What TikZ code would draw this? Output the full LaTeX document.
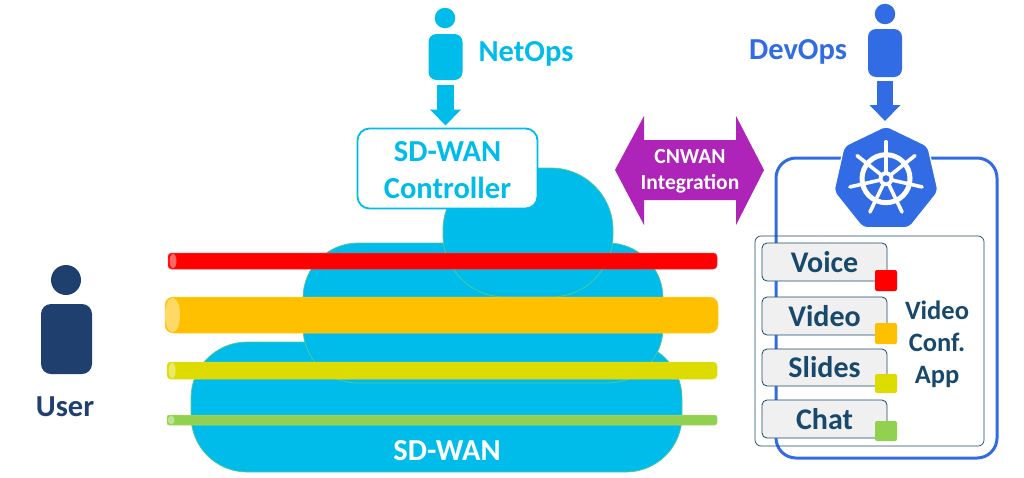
\documentclass[tikz,border=0pt]{standalone}
\usepackage{fontspec}
\setmainfont{Carlito}
\usetikzlibrary{arrows.meta,shapes.geometric,calc}
\definecolor{cyanc}{HTML}{00BCEB}
\definecolor{blueops}{HTML}{326CE5}
\definecolor{navy}{HTML}{1F3F6F}
\definecolor{teal}{HTML}{17496D}
\definecolor{purp}{HTML}{AE24B8}
\definecolor{redp}{HTML}{FF0000}
\definecolor{orap}{HTML}{FFC000}
\definecolor{yelp}{HTML}{DDDB00}
\definecolor{grnp}{HTML}{92D050}
\tikzset{
  px/.style={inner sep=0pt,outer sep=0pt},
  blob/.style={px,fill=cyanc,draw=grnp!60!cyanc,line width=0.7pt},
  head/.style={px,circle,fill=#1},
  body/.style={px,rectangle,fill=#1,rounded corners=8pt},
  lab/.style={font=\bfseries,align=center,inner sep=0pt},
  svc/.style={px,draw=teal,fill=black!6,line width=0.8pt,rounded corners=5pt,minimum width=125pt,font=\bfseries\fontsize{30}{30}\selectfont,text=teal},
  tag/.style={px,fill=#1,rounded corners=2pt,minimum width=22pt},
}
\newcommand{\pipe}[6]{% x1 x2 ytop ybot colour name
  \path let \n1={(#3+#4)/2}, \n2={(#4-#3)/2} in
    node[px,fill=#5,draw=#5!80!white,line width=0.5pt,rounded corners=\n2*0.45,minimum width=#2pt-#1pt,minimum height=#4pt-#3pt] (#6) at ({(#1+#2)/2},\n1) {}
    node[px,ellipse,fill=#5!60!white,minimum width={max(7,(#4-#3)*0.42)*1pt},minimum height=#4pt-#3pt-1.5pt] (#6e) at (#1+\n2*0.25+3,\n1) {};
}
\begin{document}
\begin{tikzpicture}[x=1pt,y=-1pt]
\useasboundingbox (0,0) rectangle (1024,477);
% cloud
\node[blob,rounded corners=56pt,minimum width=491pt,minimum height=130pt] (cloudbot) at (436.5,407) {};
\node[blob,rounded corners=55pt,minimum width=360pt,minimum height=140pt] (cloudmid) at (483,313) {};
\node[blob,rounded corners=62pt,minimum width=170pt,minimum height=129pt] (cloudtop) at (528,232.5) {};
\node[lab,text=white,font=\bfseries\fontsize{30.5}{30.5}\selectfont] (sdwan) at (447,451) {SD-WAN};
% pipes
\pipe{168}{717}{253}{269}{redp}{pvoice}
\pipe{165}{718}{297}{333}{orap}{pvideo}
\pipe{167}{717}{362}{379}{yelp}{pslides}
\pipe{167}{717}{415}{425}{grnp}{pchat}
% NetOps
\node[head=cyanc,minimum size=20.5pt] (nhead) at (445,18) {};
\node[body=cyanc,minimum width=34pt,minimum height=46pt] (nbody) at (445.5,57) {};
\node[lab,text=cyanc,font=\bfseries\fontsize{30.5}{30.5}\selectfont] (nlab) at (526,54) {NetOps};
\node[px,draw=cyanc,fill=white,line width=1.8pt,rounded corners=12pt,minimum width=180pt,minimum height=80pt] (ctrl) at (447.5,168.5) {};
\node[lab,text=cyanc,font=\bfseries\fontsize{30.5}{37}\selectfont] (ctrltext) at (447.5,170) {SD-WAN\\Controller};
\draw[cyanc,line width=16.5pt,-{Triangle[length=16pt,width=30pt]},shorten >=3pt,shorten <=5pt] (nbody.south) -- (nbody.south|-ctrl.north);
% DevOps
\node[head=blueops,minimum size=20.5pt] (dhead) at (885,14) {};
\node[body=blueops,minimum width=34pt,minimum height=48pt] (dbody) at (885,53) {};
\node[lab,text=blueops,font=\bfseries\fontsize{30.5}{30.5}\selectfont] (dlab) at (798,52) {DevOps};
% panel
\node[px,draw=blueops,line width=3pt,rounded corners=20pt,minimum width=221pt,minimum height=300pt] (panel) at (886.5,308) {};
\node[px,regular polygon,regular polygon sides=7,minimum size=107pt,fill=blueops,draw=white,line width=1.2pt,rounded corners=5pt] (kube) at (886,179.5) {};
\draw[blueops,line width=16.5pt,-{Triangle[length=16pt,width=30pt]},shorten >=5pt,shorten <=4pt] (dbody.south) -- (dbody.south|-kube.north);
\begin{scope}[shift={(kube.center)},white,line cap=round]
  \draw[line width=5pt] (0,-0.8) circle[radius=24pt];
  \foreach \a in {-90,-38.57,12.86,64.29,115.71,167.14,218.57}
    \draw[line width=3.6pt] ($(0,-0.8)+(\a:5)$) -- ($(0,-0.8)+(\a:37)$);
  \fill (0,-0.8) circle[radius=7.5pt];
  \fill[blueops] (0,-0.8) circle[radius=3.5pt];
\end{scope}
% CNWAN
\fill[purp] (615,170) -- (644,116) -- (644,140) -- (736,140) -- (736,116) -- (764,170) -- (736,225) -- (736,200) -- (644,200) -- (644,225) -- cycle;
\node[lab,text=white,font=\bfseries\fontsize{21.5}{26}\selectfont] (cnlab) at (690,171.5) {CNWAN\\Integration};
% app box
\node[px,draw=teal,line width=0.7pt,rounded corners=6pt,minimum width=229pt,minimum height=210pt] (appbox) at (869.5,341) {};
\node[svc,minimum height=38pt] (voice) at (824.5,262) {Voice};
\node[svc,minimum height=38pt] (video) at (824.5,316) {Video};
\node[svc,minimum height=37pt] (slides) at (824.5,367.5) {Slides};
\node[svc,minimum height=38pt] (chat) at (824.5,419) {Chat};
\node[tag=redp,minimum height=21pt] (tv) at (886,280.5) {};
\node[tag=orap,minimum height=21pt] (tvd) at (886,333.5) {};
\node[tag=yelp,minimum height=19pt] (ts) at (886,383.5) {};
\node[tag=grnp,minimum height=20pt] (tc) at (886,431) {};
\node[lab,text=teal,font=\bfseries\fontsize{26.5}{32}\selectfont] (app) at (937,344) {Video\\Conf.\\App};
% User
\node[head=navy,minimum size=30pt] (uhead) at (66,280) {};
\node[body=navy,rounded corners=10pt,minimum width=51pt,minimum height=70pt] (ubody) at (66.5,339) {};
\node[lab,text=navy,font=\bfseries\fontsize{30.5}{30.5}\selectfont] (ulab) at (65,407) {User};
\end{tikzpicture}
\end{document}
